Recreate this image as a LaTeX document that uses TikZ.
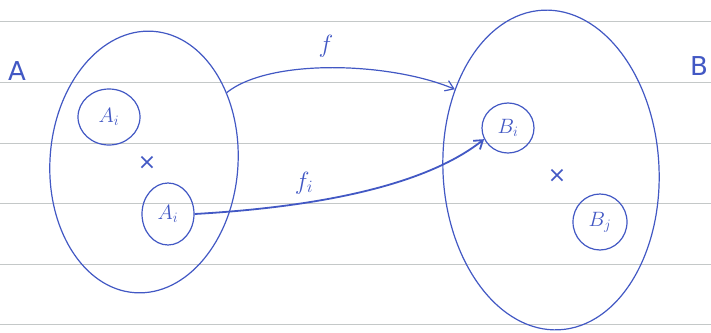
\documentclass[tikz,border=0pt]{standalone}
\usepackage{fontspec}
\setmainfont{DejaVu Sans}
\usetikzlibrary{shapes.geometric,arrows.meta}
\definecolor{ink}{RGB}{66,88,196}
\definecolor{rule}{RGB}{196,200,200}
\begin{document}
\begin{tikzpicture}[x=1pt,y=-1pt,
  inkline/.style={draw=ink,line width=1.2pt},
  setshape/.style={ellipse,inkline,inner sep=0pt},
  elem/.style={ellipse,inkline,inner sep=0pt,text=ink,font=\fontsize{22}{24}\selectfont},
  lbl/.style={text=ink,font=\fontsize{26}{28}\selectfont},
  cross/.style={text=ink,font=\fontsize{22}{24}\selectfont},
  mapline/.style={ink,line width=1.2pt,-{Straight Barb[length=8pt,width=11pt]}}]
\useasboundingbox (0,0) rectangle (711,332);
\fill[white] (0,0) rectangle (711,332);
\foreach \yy in {21,82,143,203,264,324}
  \draw[rule,line width=1pt] (0,\yy) -- (711,\yy);
% sets
\node[setshape,minimum width=188pt,minimum height=262pt,rotate=-4] (A) at (144,162) {};
\node[setshape,minimum width=216pt,minimum height=320pt,rotate=3] (B) at (551,170) {};
% labels of sets
\node[lbl] (la) at (17,71) {A};
\node[lbl] (lb) at (699,66) {B};
% elements
\node[elem,minimum width=62pt,minimum height=56pt] (ak) at (109,117) {$A_{i}$};
\node[elem,minimum width=52pt,minimum height=62pt] (ai) at (168,214) {$A_{i}$};
\node[elem,minimum width=52pt,minimum height=50pt] (bi) at (508,128) {$B_{i}$};
\node[elem,minimum width=54pt,minimum height=56pt] (bj) at (600,222) {$B_{j}$};
% crosses
\node[cross] (xa) at (147,163) {×};
\node[cross] (xb) at (557,176) {×};
% maps
\draw[mapline] (A.44) .. controls (270,58) and (390,62) .. (B.137);
\node[lbl] (lf) at (326,46) {$f$};
\draw[mapline,line width=1.8pt] (ai.east) .. controls (300,208) and (420,190) .. (bi.205);
\node[lbl] (lfi) at (304,183) {$f_{i}$};
\end{tikzpicture}
\end{document}
